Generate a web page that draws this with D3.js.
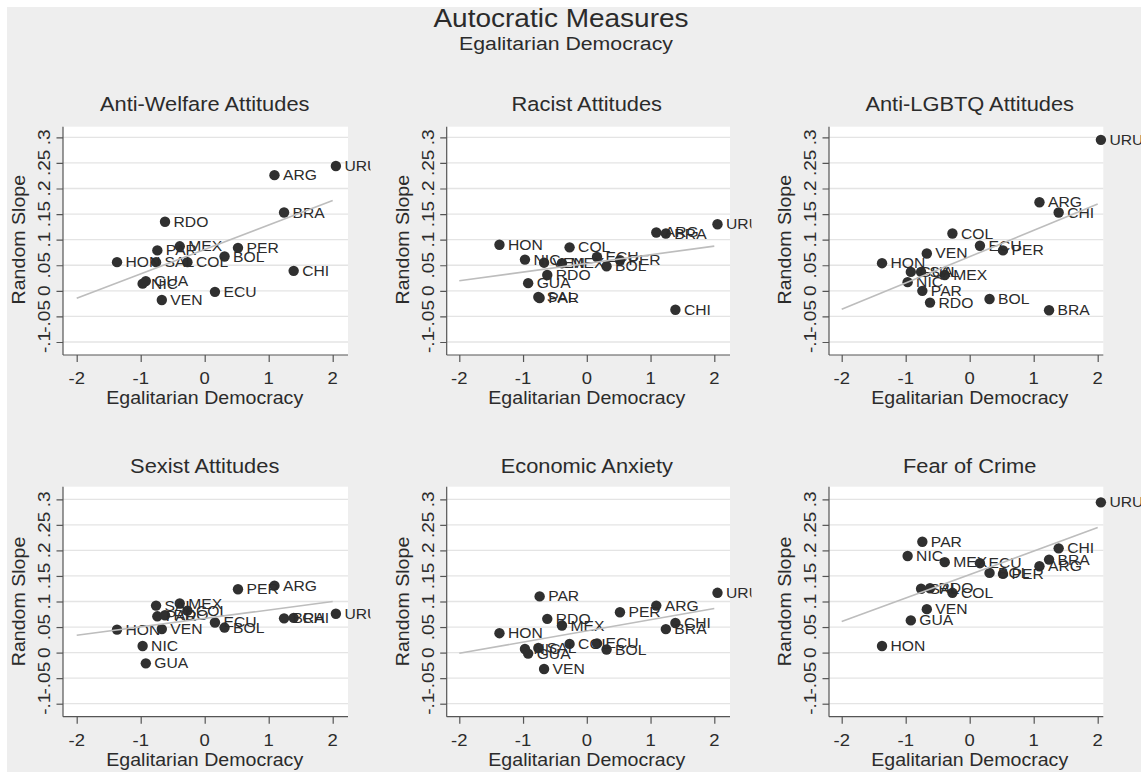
<!DOCTYPE html>
<html>
<head>
<meta charset="utf-8">
<script src="https://cdn.jsdelivr.net/npm/d3@7"></script>
<style>
  html, body { margin: 0; padding: 0; background: #ffffff; }
  svg { display: block; }
</style>
</head>
<body>
<svg id="chart" width="1141" height="772"></svg>
<script>
// ---- data -------------------------------------------------------------
const countries = ["ARG","BOL","BRA","CHI","COL","ECU","GUA","HON","MEX","NIC","PAR","PER","RDO","SAL","URU","VEN"];
const egalitarianDemocracy = [1.09, 0.31, 1.24, 1.39, -0.27, 0.16, -0.92, -1.37, -0.39, -0.97, -0.74, 0.52, -0.62, -0.76, 2.05, -0.67];

const panelTitles = ["Anti-Welfare Attitudes", "Racist Attitudes", "Anti-LGBTQ Attitudes",
                     "Sexist Attitudes", "Economic Anxiety", "Fear of Crime"];

const antiWelfare = [0.226, 0.067, 0.153, 0.039, 0.056, -0.002, 0.019, 0.056, 0.087, 0.014, 0.079, 0.084, 0.135, 0.056, 0.244, -0.018];
const racist      = [0.114, 0.048, 0.112, -0.037, 0.085, 0.066, 0.015, 0.090, 0.054, 0.061, -0.014, 0.060, 0.031, -0.012, 0.130, 0.055];
const antiLGBTQ   = [0.173, -0.016, -0.038, 0.153, 0.112, 0.088, 0.037, 0.054, 0.031, 0.017, 0.000, 0.079, -0.023, 0.037, 0.295, 0.073];
const sexist      = [0.131, 0.049, 0.067, 0.068, 0.082, 0.059, -0.021, 0.045, 0.096, 0.013, 0.071, 0.124, 0.073, 0.092, 0.076, 0.046];
const economicAnx = [0.092, 0.006, 0.046, 0.058, 0.017, 0.018, -0.002, 0.038, 0.053, 0.007, 0.110, 0.079, 0.066, 0.009, 0.117, -0.032];
const fearOfCrime = [0.169, 0.156, 0.182, 0.204, 0.117, 0.175, 0.063, 0.013, 0.177, 0.189, 0.217, 0.154, 0.126, 0.125, 0.294, 0.085];
const panelSeries = [antiWelfare, racist, antiLGBTQ, sexist, economicAnx, fearOfCrime];

const xTicks = [-2, -1, 0, 1, 2];
const yTicks = [-0.1, -0.05, 0, 0.05, 0.1, 0.15, 0.2, 0.25, 0.3];
const yTickLabels = ["-.1", "-.05", "0", ".05", ".1", ".15", ".2", ".25", ".3"];
const fitRange = [-2, 2];

const mainTitle = "Autocratic Measures";
const subTitle = "Egalitarian Democracy";
const xTitle = "Egalitarian Democracy";
const yTitle = "Random Slope";

// ---- styling / layout --------------------------------------------------
const FONT = "'Liberation Sans', Arial, Helvetica, sans-serif";
const SX = 1.12;              // horizontal widening of glyphs
const INK = "#2b2b2b";
const BG = "#eeeeee";

const cols = [
  { axisX: 63.0,  x0: 76.7,  x1: 332.7,  right: 348.0,  clipL: 7,     clipR: 370.5 },
  { axisX: 446.7, x0: 459.3, x1: 714.3,  right: 730.0,  clipL: 380,   clipR: 751.5 },
  { axisX: 829.0, x0: 841.7, x1: 1097.7, right: 1103.3, clipL: 762,   clipR: 1141 }
];
const rows = [
  { top: 126.7, yTop: 137.3, yBot: 342.0, bottom: 355.0, titleY: 110.7 },
  { top: 486.7, yTop: 499.3, yBot: 703.7, bottom: 716.7, titleY: 473.3 }
];

const svg = d3.select("#chart");
svg.append("rect").attr("x", 7).attr("y", 7).attr("width", 1134).attr("height", 765).attr("fill", BG);

// text helper: glyphs widened along the reading direction
function txt(parent, x, y, s, size, anchor, rot) {
  const g = parent.append("g")
    .attr("transform", `translate(${x},${y}) rotate(${rot || 0}) scale(${SX},1)`);
  g.append("text")
    .attr("x", 0).attr("y", 0)
    .attr("text-anchor", anchor || "middle")
    .attr("font-family", FONT)
    .attr("font-size", size)
    .attr("fill", INK)
    .text(s);
  return g;
}

txt(svg, 561, 27.3, mainTitle, 25, "middle");
txt(svg, 566, 50, subTitle, 19, "middle");

const defs = svg.append("defs");

panelSeries.forEach((vals, i) => {
  const c = cols[i % 3];
  const r = rows[Math.floor(i / 3)];

  const x = d3.scaleLinear().domain([-2, 2]).range([c.x0, c.x1]);
  const y = d3.scaleLinear().domain([-0.1, 0.3]).range([r.yBot, r.yTop]);

  const clipId = "clip" + i;
  defs.append("clipPath").attr("id", clipId)
    .append("rect").attr("x", c.clipL).attr("y", r.top - 60)
    .attr("width", c.clipR - c.clipL).attr("height", 360);

  const g = svg.append("g").attr("clip-path", `url(#${clipId})`);

  // plot region
  g.append("rect").attr("x", c.axisX).attr("y", r.top)
    .attr("width", c.right - c.axisX).attr("height", r.bottom - r.top)
    .attr("fill", "#ffffff");

  // horizontal grid
  g.append("g").selectAll("line").data(yTicks).join("line")
    .attr("x1", c.axisX).attr("x2", c.right)
    .attr("y1", d => y(d)).attr("y2", d => y(d))
    .attr("stroke", "#e4e4e4").attr("stroke-width", 1.3);

  // axes
  const yAxis = d3.axisLeft(y).tickValues(yTicks).tickSize(6.5).tickFormat("");
  const xAxis = d3.axisBottom(x).tickValues(xTicks).tickSize(7).tickFormat("");
  const ya = g.append("g").attr("transform", `translate(${c.axisX},0)`).call(yAxis);
  const xa = g.append("g").attr("transform", `translate(0,${r.bottom})`).call(xAxis);
  [ya, xa].forEach(a => {
    a.select(".domain").remove();
    a.selectAll("line").attr("stroke", "#555").attr("stroke-width", 1.2);
  });
  g.append("line").attr("x1", c.axisX).attr("x2", c.axisX)
    .attr("y1", r.top).attr("y2", r.bottom).attr("stroke", "#555").attr("stroke-width", 1.2);
  g.append("line").attr("x1", c.axisX).attr("x2", c.right)
    .attr("y1", r.bottom).attr("y2", r.bottom).attr("stroke", "#555").attr("stroke-width", 1.2);

  // tick labels
  yTicks.forEach((t, k) => txt(g, c.axisX - 13, y(t), yTickLabels[k], 17, "middle", -90));
  xTicks.forEach(t => txt(g, x(t), r.bottom + 29, String(t), 16.5, "middle"));

  // axis titles and panel title
  txt(g, c.axisX - 38, (r.yTop + r.yBot) / 2, yTitle, 17.5, "middle", -90);
  txt(g, (c.x0 + c.x1) / 2, r.bottom + 49, xTitle, 17.5, "middle");
  txt(svg, (c.x0 + c.x1) / 2, r.titleY, panelTitles[i], 19.5, "middle");

  // points + country labels
  const pts = countries.map((name, k) => ({ name, xv: egalitarianDemocracy[k], yv: vals[k] }));
  g.append("g").selectAll("circle").data(pts).join("circle")
    .attr("cx", d => x(d.xv)).attr("cy", d => y(d.yv)).attr("r", 5.2)
    .attr("fill", "#303030");
  pts.forEach(d => txt(g, x(d.xv) + 8.5, y(d.yv) + 5, d.name, 14, "start"));

  // linear fit across the x range
  const mx = d3.mean(pts, d => d.xv), my = d3.mean(pts, d => d.yv);
  const sxy = d3.sum(pts, d => (d.xv - mx) * (d.yv - my));
  const sxx = d3.sum(pts, d => (d.xv - mx) ** 2);
  const b = sxy / sxx, a0 = my - b * mx;
  g.append("line")
    .attr("x1", x(fitRange[0])).attr("y1", y(a0 + b * fitRange[0]))
    .attr("x2", x(fitRange[1])).attr("y2", y(a0 + b * fitRange[1]))
    .attr("stroke", "#bdbdbd").attr("stroke-width", 1.6);
});
</script>
</body>
</html>
